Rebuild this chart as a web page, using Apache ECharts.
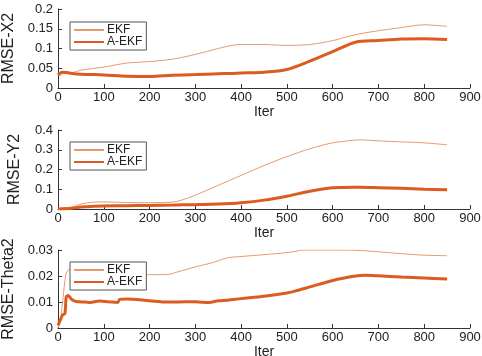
<!DOCTYPE html>
<html><head><meta charset="utf-8">
<script src="https://cdn.jsdelivr.net/npm/echarts@6/dist/echarts.min.js"></script>
<style>html,body{margin:0;padding:0;background:#fff}#c{width:482px;height:356px}</style>
</head><body><div id="c"></div>
<script>
// Panel 1: RMSE-X2
const x2Iter = [0,5,10,20,30,50,100,150,200,250,300,350,380,400,450,500,550,600,650,700,750,800,850];
const x2EKF  = [0.035,0.032,0.038,0.036,0.038,0.045,0.053,0.063,0.067,0.073,0.085,0.100,0.108,0.110,0.110,0.108,0.110,0.120,0.135,0.145,0.153,0.160,0.156];
const x2AEKF = [0.033,0.038,0.040,0.039,0.037,0.035,0.033,0.030,0.029,0.032,0.034,0.036,0.037,0.038,0.040,0.047,0.068,0.092,0.116,0.120,0.124,0.125,0.123];
// Panel 2: RMSE-Y2
const y2Iter = [0,30,50,80,100,150,200,250,270,300,350,400,450,500,550,600,650,660,700,750,800,850];
const y2EKF  = [0,0.010,0.025,0.035,0.036,0.033,0.032,0.035,0.045,0.070,0.120,0.170,0.220,0.265,0.305,0.335,0.349,0.350,0.345,0.340,0.335,0.325];
const y2AEKF = [0,0.004,0.010,0.014,0.015,0.017,0.018,0.020,0.021,0.022,0.025,0.032,0.045,0.065,0.090,0.107,0.110,0.110,0.108,0.105,0.100,0.097];
// Panel 3: RMSE-Theta2
const thIter = [0,5,10,15,18,22,26,30,40,60,70,90,110,125,130,135,150,200,240,260,300,330,350,370,400,450,500,520,530,550,600,650,670,700,750,800,850];
const thEKF  = [0,0.003,0.010,0.018,0.021,0.0222,0.0225,0.0215,0.0207,0.0205,0.0205,0.0205,0.0205,0.0205,0.0205,0.0205,0.0205,0.0205,0.0206,0.0215,0.0235,0.0248,0.0258,0.0270,0.0275,0.0282,0.0290,0.0295,0.0299,0.0300,0.0300,0.0299,0.0297,0.0293,0.0286,0.0280,0.0278];
const thAEKF = [0.001,0.003,0.005,0.0055,0.0120,0.0125,0.0118,0.0110,0.0102,0.0100,0.0098,0.0104,0.0101,0.0099,0.0098,0.0110,0.0112,0.0105,0.0100,0.0100,0.0101,0.0098,0.0105,0.0107,0.0113,0.0122,0.0135,0.0143,0.0148,0.0158,0.0183,0.0200,0.0203,0.0201,0.0196,0.0192,0.0188];

const yNames = ['RMSE-X2','RMSE-Y2','RMSE-Theta2'];
const yMax = [0.2,0.4,0.03];
const yInt = [0.05,0.1,0.01];
const xTicks = {min:0,max:900,interval:100};
const seriesNames = ['EKF','A-EKF'];

const cEKF = '#E59A6B', cA = '#DC5B1F';
const font = 'Liberation Sans, Arial, sans-serif';
const grids = [{left:58,right:12,top:9,height:79},{left:58,right:12,top:130,height:79},{left:58,right:12,top:250,height:78}]
  .map(g=>Object.assign(g,{outerBoundsMode:'none',containLabel:false}));
const axisLine = {show:true,lineStyle:{color:'#333',width:1}};
const xAxes = grids.map((g,i)=>({type:'value',gridIndex:i,min:xTicks.min,max:xTicks.max,interval:xTicks.interval,
  name:'Iter',nameLocation:'middle',nameGap:16,nameTextStyle:{fontSize:14,color:'#222',fontFamily:font},
  axisLine:axisLine,axisTick:{show:true,inside:true,length:4,lineStyle:{color:'#333'}},
  axisLabel:{fontSize:13,color:'#222',fontFamily:font,margin:3},splitLine:{show:false}}));
const yAxes = grids.map((g,i)=>({type:'value',gridIndex:i,min:0,max:yMax[i],interval:yInt[i],
  name:yNames[i],nameLocation:'middle',nameGap:35,nameTextStyle:{fontSize:16,color:'#222',fontFamily:font},
  axisLine:axisLine,axisTick:{show:true,inside:true,length:4,lineStyle:{color:'#333'}},
  axisLabel:{fontSize:13,color:'#222',fontFamily:font,margin:5},splitLine:{show:false}}));
const datasets = [[x2Iter,x2EKF,x2AEKF],[y2Iter,y2EKF,y2AEKF],[thIter,thEKF,thAEKF]];
const series = [];
datasets.forEach((d,i)=>{
  series.push({name:seriesNames[0],type:'line',xAxisIndex:i,yAxisIndex:i,symbol:'none',smooth:0.3,
    data:d[0].map((x,k)=>[x,d[1][k]]),lineStyle:{color:cEKF,width:1},itemStyle:{color:cEKF},z:2});
  series.push({name:seriesNames[1],type:'line',xAxisIndex:i,yAxisIndex:i,symbol:'none',smooth:0.3,
    data:d[0].map((x,k)=>[x,d[2][k]]),lineStyle:{color:cA,width:3},itemStyle:{color:cA},z:3});
});
const legendTops=[22,142,262];
const legends = legendTops.map(t=>({left:70,top:t,orient:'vertical',data:seriesNames,itemWidth:30,itemHeight:8,itemGap:0,
  itemStyle:{opacity:0},
  backgroundColor:'#fff',borderColor:'#555',borderWidth:1,borderRadius:0,padding:[2,4,2,3],
  textStyle:{fontSize:12,color:'#222',fontFamily:font,lineHeight:10,padding:[0,0,0,-2]},selectedMode:false,z:10}));
const chart = echarts.init(document.getElementById('c'),null,{renderer:'canvas'});
chart.setOption({animation:false,backgroundColor:'#fff',grid:grids,xAxis:xAxes,yAxis:yAxes,legend:legends,series:series});
</script></body></html>
